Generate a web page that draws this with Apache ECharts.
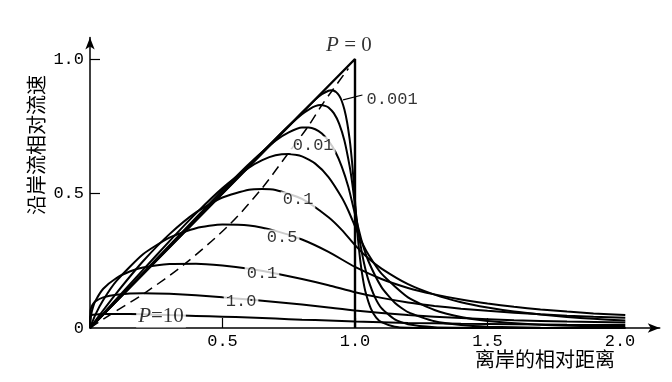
<!DOCTYPE html>
<html><head><meta charset="utf-8">
<script src="https://cdn.jsdelivr.net/npm/echarts@6.0.0/dist/echarts.min.js"></script>
<style>html,body{margin:0;padding:0;background:#fff}#c{width:672px;height:382px}</style>
</head><body><div id="c"></div>
<script>
// ---- data ----
const xTickLabels = [0.5, 1.0, 1.5, 2.0];
const yTickLabels = [0, 0.5, 1.0];
const xName = '离岸的相对距离';
const yName = '沿岸流相对流速';

const curveP0 = [[0,0],[1,1],[1,0]];
const curve0001 = [[0,0],[0.5,0.501],[0.7,0.702],[0.8,0.801],[0.85,0.849],[0.875,0.869],[0.9,0.882],[0.91,0.884],[0.92,0.882],[0.93,0.876],[0.94,0.864],[0.95,0.844],[0.96,0.812],[0.97,0.766],[0.98,0.700],[0.985,0.656],[0.99,0.605],[0.995,0.544],[1.0,0.474],[1.005,0.403],[1.01,0.343],[1.02,0.250],[1.03,0.182],[1.04,0.133],[1.06,0.072],[1.08,0.039],[1.1,0.022],[1.15,0.005],[1.2,0.001],[1.3,0],[2.02,0]];
const curve0003 = [[0,0],[0.5,0.504],[0.6,0.605],[0.7,0.704],[0.75,0.752],[0.8,0.795],[0.83,0.815],[0.85,0.825],[0.87,0.829],[0.89,0.825],[0.9,0.820],[0.92,0.799],[0.94,0.760],[0.96,0.697],[0.98,0.600],[0.99,0.535],[1.0,0.456],[1.01,0.377],[1.02,0.313],[1.035,0.237],[1.05,0.180],[1.075,0.115],[1.1,0.074],[1.15,0.032],[1.2,0.014],[1.3,0.003],[1.4,0.001],[1.5,0],[2.02,0]];
const curve001 = [[0,0],[0.4,0.410],[0.5,0.512],[0.6,0.610],[0.7,0.696],[0.75,0.727],[0.8,0.745],[0.825,0.745],[0.85,0.739],[0.875,0.723],[0.9,0.696],[0.925,0.657],[0.95,0.600],[0.975,0.524],[1.0,0.423],[1.025,0.324],[1.05,0.250],[1.1,0.152],[1.15,0.094],[1.2,0.059],[1.3,0.025],[1.4,0.011],[1.5,0.005],[1.7,0.001],[2.02,0]];
const curve003 = [[0,0],[0.2,0.216],[0.3,0.323],[0.4,0.426],[0.5,0.520],[0.6,0.596],[0.65,0.624],[0.7,0.642],[0.75,0.647],[0.8,0.638],[0.85,0.611],[0.9,0.561],[0.95,0.485],[0.975,0.436],[1.0,0.378],[1.025,0.321],[1.05,0.274],[1.1,0.202],[1.2,0.114],[1.3,0.067],[1.4,0.041],[1.5,0.026],[1.7,0.012],[2.02,0.004]];
const curve01 = [[0,0],[0.05,0.066],[0.1,0.130],[0.2,0.248],[0.3,0.349],[0.4,0.430],[0.5,0.485],[0.6,0.514],[0.65,0.517],[0.7,0.513],[0.8,0.480],[0.9,0.412],[0.95,0.365],[1.0,0.308],[1.05,0.259],[1.1,0.221],[1.2,0.163],[1.3,0.124],[1.4,0.096],[1.5,0.076],[1.6,0.061],[1.7,0.050],[1.8,0.041],[1.9,0.034],[2.02,0.028]];
const curve03 = [[0,0],[0.02,0.049],[0.05,0.104],[0.1,0.175],[0.2,0.274],[0.3,0.336],[0.4,0.371],[0.5,0.385],[0.6,0.381],[0.7,0.361],[0.8,0.329],[0.9,0.283],[1.0,0.227],[1.1,0.182],[1.2,0.149],[1.3,0.125],[1.4,0.106],[1.5,0.091],[1.6,0.079],[1.7,0.069],[1.8,0.061],[1.9,0.054],[2.02,0.048]];
const curve1 = [[0,0],[0.001,0.025],[0.005,0.053],[0.01,0.073],[0.02,0.100],[0.05,0.146],[0.1,0.186],[0.15,0.210],[0.2,0.225],[0.3,0.238],[0.4,0.239],[0.5,0.232],[0.6,0.220],[0.7,0.203],[0.8,0.182],[0.9,0.159],[1.0,0.133],[1.1,0.112],[1.2,0.095],[1.3,0.082],[1.4,0.072],[1.5,0.064],[1.6,0.057],[1.7,0.051],[1.8,0.046],[1.9,0.042],[2.02,0.038]];
const curve3 = [[0,0],[0.002,0.064],[0.005,0.077],[0.01,0.087],[0.02,0.099],[0.05,0.114],[0.1,0.124],[0.2,0.129],[0.3,0.127],[0.4,0.122],[0.5,0.114],[0.6,0.106],[0.7,0.097],[0.8,0.087],[0.9,0.076],[1.0,0.065],[1.2,0.048],[1.4,0.037],[1.6,0.029],[1.8,0.024],[2.02,0.020]];
const curve10 = [[0,0],[0.002,0.044],[0.005,0.047],[0.01,0.049],[0.02,0.050],[0.05,0.052],[0.1,0.052],[0.2,0.051],[0.3,0.048],[0.4,0.045],[0.5,0.042],[0.6,0.039],[0.7,0.035],[0.8,0.031],[0.9,0.028],[1.0,0.024],[1.2,0.019],[1.4,0.016],[1.6,0.014],[1.8,0.012],[2.02,0.011]];
const maxLocus = [[0,0],[0.08,0.052],[0.205,0.129],[0.36,0.24],[0.527,0.385],[0.647,0.517],[0.746,0.647],[0.82,0.745],[0.875,0.829],[0.915,0.884],[0.975,0.965]];
const leader0001 = [[0.955,0.848],[1.028,0.866]];
const labelTexts = ['P = 0','0.001','0.01','0.1','0.5','0.1','1.0','P=10'];
const labelAt = [[0.977,1.052],[1.14,0.851],[0.842,0.68],[0.785,0.476],[0.725,0.335],[0.649,0.204],[0.57,0.097],[0.268,0.041]];

// ---- chart ----
const chart = echarts.init(document.getElementById('c'), null, {renderer:'canvas'});
function curve(data, w, extra) {
  return Object.assign({
    type:'line', data:data, symbol:'none', smooth:0.2, silent:true,
    lineStyle:{color:'#000', width:w}, emphasis:{disabled:true}, z:2
  }, extra || {});
}
function fmtLabel(t) {
  if (t.charAt(0) === 'P') return '{i|P}{n|' + t.slice(1) + '}';
  return t;
}
const series = [
  curve(curveP0, 2.4, {smooth:false}),
  curve(maxLocus, 1.5, {smooth:0.3, lineStyle:{color:'#000', width:1.5, type:[10,6]}}),
  curve(curve0001, 2),
  curve(curve0003, 2),
  curve(curve001, 2),
  curve(curve003, 2),
  curve(curve01, 2),
  curve(curve03, 2),
  curve(curve1, 2),
  curve(curve3, 2),
  curve(curve10, 2),
  curve(leader0001, 1.1, {smooth:false}),
  {
    type:'scatter', z:10, silent:true, symbolSize:1,
    itemStyle:{color:'rgba(0,0,0,0)'},
    data: labelAt.map((p,i)=>({
      value:p,
      label:{formatter: fmtLabel(labelTexts[i]), backgroundColor: i===0 ? 'transparent' : '#fff'}
    })),
    label:{
      show:true, position:'inside', color:'#000', padding:[0,2],
      fontFamily:'Liberation Mono', fontSize:17,
      rich:{
        i:{fontFamily:'Liberation Serif', fontStyle:'italic', fontSize:21, color:'#000'},
        n:{fontFamily:'Liberation Serif', fontSize:21, color:'#000'}
      }
    }
  }
];
chart.setOption({
  animation:false,
  backgroundColor:'#fff',
  grid:{left:90, right:12.25, top:37.5, bottom:54, containLabel:false, outerBoundsMode:'none'},
  xAxis:{
    type:'value', min:0, max:2.15, interval:0.5,
    axisLine:{show:true, onZero:false, symbol:['none','arrow'], symbolSize:[7,12], lineStyle:{color:'#000', width:1.5}},
    axisTick:{show:true, inside:true, length:10, customValues:[0.5,1,1.5], lineStyle:{color:'#000', width:1.2}},
    axisLabel:{customValues:xTickLabels, formatter:v=>v.toFixed(1), color:'#000', fontFamily:'Liberation Mono', fontSize:17, margin:5},
    splitLine:{show:false}
  },
  yAxis:{
    type:'value', min:0, max:1.08, interval:0.5,
    axisLine:{show:true, onZero:false, symbol:['none','arrow'], symbolSize:[7,12], lineStyle:{color:'#000', width:1.5}},
    axisTick:{show:true, inside:true, length:10, customValues:[0.5,1], lineStyle:{color:'#000', width:1.2}},
    axisLabel:{customValues:yTickLabels, formatter:v=>(v===0?'0':v.toFixed(1)), color:'#000', fontFamily:'Liberation Mono', fontSize:17, margin:6},
    splitLine:{show:false}
  },
  graphic:[
    {type:'text', x:545, y:359, silent:true, style:{text:xName, fill:'#000', fontSize:20, fontFamily:'"Noto Sans CJK SC"', align:'center', verticalAlign:'middle'}},
    {type:'text', x:36, y:145, rotation:Math.PI/2, silent:true, style:{text:yName, fill:'#000', fontSize:20, fontFamily:'"Noto Sans CJK SC"', align:'center', verticalAlign:'middle'}}
  ],
  series:series
});
</script>
</body></html>
